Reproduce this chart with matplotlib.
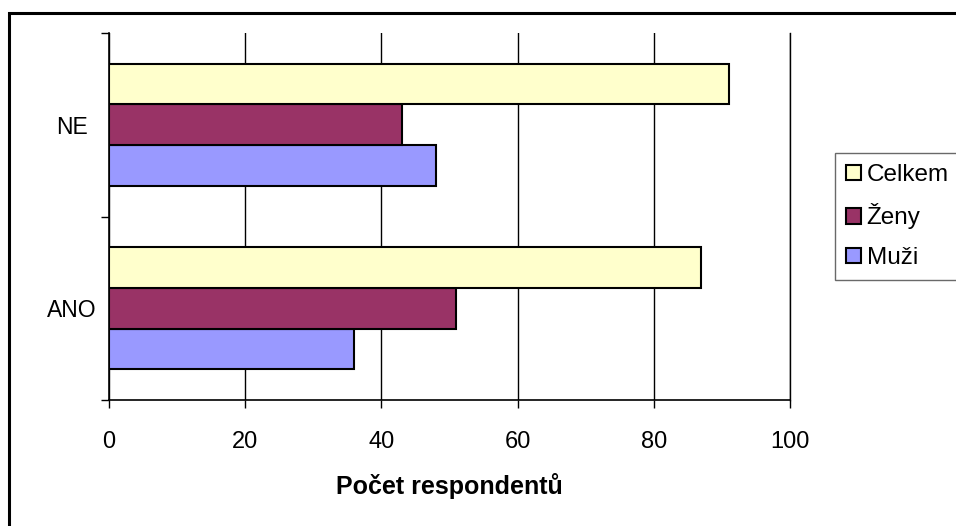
import matplotlib.pyplot as plt
from matplotlib.patches import Rectangle
import numpy as np

plt.rcParams['font.family'] = ['Liberation Sans', 'DejaVu Sans']

# categories (bottom to top) and series values
categories = ['ANO', 'NE']
muzi = [36, 48]
zeny = [51, 43]
celkem = [87, 91]
x_ticks = [0, 20, 40, 60, 80, 100]

fig = plt.figure(figsize=(9.56, 5.26), dpi=100)

# outer chart border
fig.patches.append(Rectangle((9 / 956, -0.05), 1.0, (526 - 13) / 526 + 0.05,
                             transform=fig.transFigure, fill=False,
                             edgecolor='black', linewidth=2.2, zorder=0))

ax = fig.add_axes([109 / 956, 126 / 526, 681 / 956, 367 / 526])

y = np.arange(len(categories))
h = 1 / 1.5 / 3
ax.barh(y - h, muzi, height=h, color='#9999FF', edgecolor='black', linewidth=1.5, label='Muži', zorder=3)
ax.barh(y, zeny, height=h, color='#993366', edgecolor='black', linewidth=1.5, label='Ženy', zorder=3)
ax.barh(y + h, celkem, height=h, color='#FFFFCC', edgecolor='black', linewidth=1.5, label='Celkem', zorder=3)

ax.set_xlim(0, 100)
ax.set_ylim(-0.5, 1.5)
ax.set_xticks(x_ticks)
ax.set_yticks([-0.5, 0.5, 1.5])
ax.set_yticklabels([])
ax.set_yticks(y, minor=True)
ax.set_yticklabels(categories, minor=True, ha='center')
ax.tick_params(axis='y', which='minor', length=0, pad=27, labelsize=16.5)
ax.tick_params(axis='y', which='major', length=6, width=1, direction='out')
ax.tick_params(axis='x', length=6, width=1, direction='out', pad=16, labelsize=17)

ax.grid(axis='x', color='black', linewidth=1, zorder=0)
ax.spines['top'].set_visible(False)
ax.spines['right'].set_linewidth(1)
for s in ['left', 'bottom']:
    ax.spines[s].set_linewidth(1.2)

ax.set_xlabel('Počet respondentů', fontsize=18, fontweight='bold', labelpad=15)

handles, labels = ax.get_legend_handles_labels()
leg = fig.legend(handles[::-1], labels[::-1], loc='upper left',
                 bbox_to_anchor=(835 / 956, 1 - 153 / 526), fontsize=17.5,
                 frameon=True, fancybox=False, edgecolor='#444444',
                 handlelength=0.6, handleheight=0.6, handletextpad=0.25,
                 labelspacing=0.72, borderpad=0.45, borderaxespad=0)
leg.get_frame().set_linewidth(1)

fig.savefig('out.png', dpi=100)
